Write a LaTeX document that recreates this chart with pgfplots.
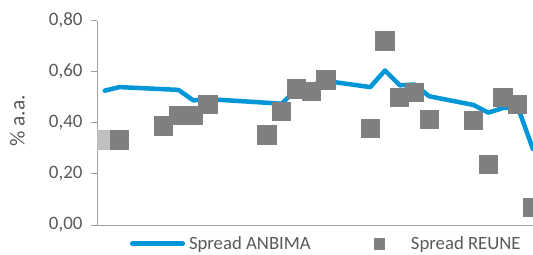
\documentclass[border=0pt]{standalone}
\usepackage{pgfplots}
\pgfplotsset{compat=1.18}
\usepackage{fontspec}
\setmainfont{Carlito}
\definecolor{anb}{RGB}{0,150,215}
\definecolor{reu}{RGB}{127,127,127}
\definecolor{reul}{RGB}{191,191,191}
\definecolor{txt}{RGB}{89,89,89}
\definecolor{axl}{RGB}{160,160,160}
\begin{document}
\begin{tikzpicture}
\useasboundingbox (0,0) rectangle (533bp,255bp);
\begin{axis}[
  at={(97bp,30bp)}, anchor=south west,
  scale only axis, width=436bp, height=204.3bp,
  xmin=-0.525, xmax=29.034, ymin=0, ymax=0.8,
  axis x line*=bottom, axis y line*=left,
  axis line style={-, draw=axl, line width=1bp},
  x axis line style={shorten <=-6bp},
  xtick=\empty,
  ytick={0,0.2,0.4,0.6,0.8},
  tick align=outside, major tick length=6bp,
  ytick style={draw=axl, line width=1bp},
  scaled y ticks=false,
  yticklabel style={font=\fontsize{19}{21}\selectfont, text=txt, xshift=-5bp,
    /pgf/number format/fixed, /pgf/number format/fixed zerofill,
    /pgf/number format/precision=2, /pgf/number format/use comma,
    /pgf/number format/assume math mode=true},
  ylabel={\% a.a.},
  ylabel style={text=txt, font=\fontsize{21.5}{23}\selectfont,
    at={(axis description cs:-0.1823,0.509)}, anchor=center},
  clip marker paths=true,
  legend columns=2,
  legend cell align=left,
  legend style={at={(axis description cs:0.0757,-0.0915)}, anchor=west,
    draw=none, fill=none, inner sep=0pt, outer sep=0pt,
    nodes={inner sep=0pt, font=\fontsize{18.8}{20}\selectfont, text=txt},
    /tikz/every even column/.append style={column sep=63bp}},
]
\addplot[reul, only marks, mark=square*, mark size=9.15bp,
  mark options={solid, fill=reul, draw=reul, line width=0pt}, forget plot]
  table {
x y
0 0.333
};
\addplot[anb, line width=4.5bp, line join=round, line cap=round,
  legend image code/.code={\path[draw=none, fill=none] (0bp,-5bp) rectangle (59bp,5bp);
    \draw[anb, line width=4.5bp, line cap=round] (2.25bp,0) -- (52.75bp,0);}]
  table {
x y
0 0.526
1 0.540
5 0.529
6 0.488
7 0.493
12 0.475
13 0.532
15 0.564
18 0.540
19 0.605
20 0.547
21 0.550
22 0.504
25 0.470
26 0.440
27 0.458
28 0.462
29.03 0.297
};
\addlegendentry{Spread ANBIMA}
\addplot[reu, only marks, mark=square*, mark size=9.15bp,
  mark options={solid, fill=reu, draw=reu, line width=0pt},
  legend image code/.code={\path[draw=none, fill=none] (0bp,-5bp) rectangle (37bp,5bp);
    \fill[reu] (0bp,-5.2bp) rectangle (10.4bp,5.2bp);}]
  table {
x y
1 0.333
4 0.388
5 0.429
6 0.429
7 0.472
11 0.352
12 0.445
13 0.532
14 0.523
15 0.568
18 0.378
19 0.720
20 0.499
21 0.519
22 0.414
25 0.410
26 0.236
27 0.499
28 0.471
29 0.069
};
\addlegendentry{Spread REUNE}
\end{axis}
\end{tikzpicture}
\end{document}
